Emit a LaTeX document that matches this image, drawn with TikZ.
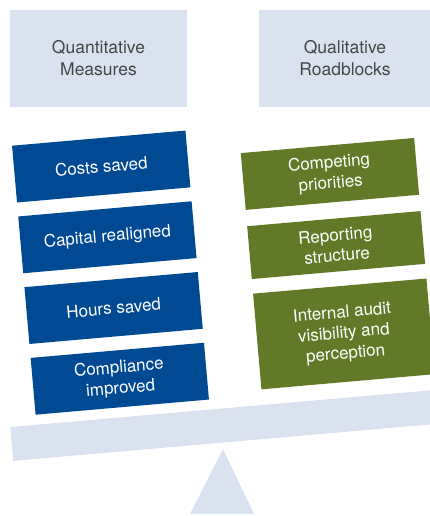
\documentclass[tikz,border=0pt]{standalone}
\usepackage{fontspec}
\setmainfont{TeX Gyre Heros}
\usepackage{xcolor}
\usepackage{tikz}
\usetikzlibrary{positioning,calc}
\definecolor{scaleblue}{RGB}{218,226,240}
\definecolor{measblue}{RGB}{0,74,148}
\definecolor{blockgreen}{RGB}{98,122,40}
\definecolor{headtext}{RGB}{70,70,70}
\tikzset{
  head/.style={fill=scaleblue, minimum width=177pt, minimum height=97pt, inner sep=0pt,
               align=center, text=headtext, font=\fontsize{17.5}{22}\selectfont},
  item/.style={minimum width=174pt, minimum height=57pt, inner sep=0pt, align=center,
               text=white, font=\fontsize{17}{20.5}\selectfont},
  measure/.style={item, fill=measblue},
  block/.style={item, fill=blockgreen},
  beam/.style={fill=scaleblue, minimum width=450pt, minimum height=34pt, inner sep=0pt},
  fulcrum/.style={fill=scaleblue}
}

\begin{document}
\begin{tikzpicture}[x=1pt, y=1pt]
\clip (0,0) rectangle (430,516);
% headers
\node[head] (qm) at (98.5,457.5) {Quantitative\\Measures};
\node[head, minimum width=172pt] (qr) at (345,457.5) {Qualitative\\Roadblocks};
% tilted scale
\coordinate (pivot) at (223,67);
\begin{scope}[shift={(pivot)}, rotate=5, transform shape]
  \node[beam] (bar) at (15,23.4) {};
  \node[measure] (costs) at (-96.7,292) {Costs saved};
  \node[measure] (capital) at (-96.7,221) {Capital realigned};
  \node[measure] (hours) at (-96.7,150) {Hours saved};
  \node[measure] (compl) at (-96.7,79) {Compliance\\improved};
  \node[block] (prio) at (130.5,264.7) {Competing\\priorities};
  \node[block, minimum height=53pt] (report) at (130.5,193.3) {Reporting\\structure};
  \node[block, minimum height=96pt] (audit) at (130.5,104.1) {Internal audit\\visibility and\\perception};
\end{scope}
\fill[fulcrum] (pivot) -- (254,2) -- (190,2) -- cycle;
\end{tikzpicture}
\end{document}
